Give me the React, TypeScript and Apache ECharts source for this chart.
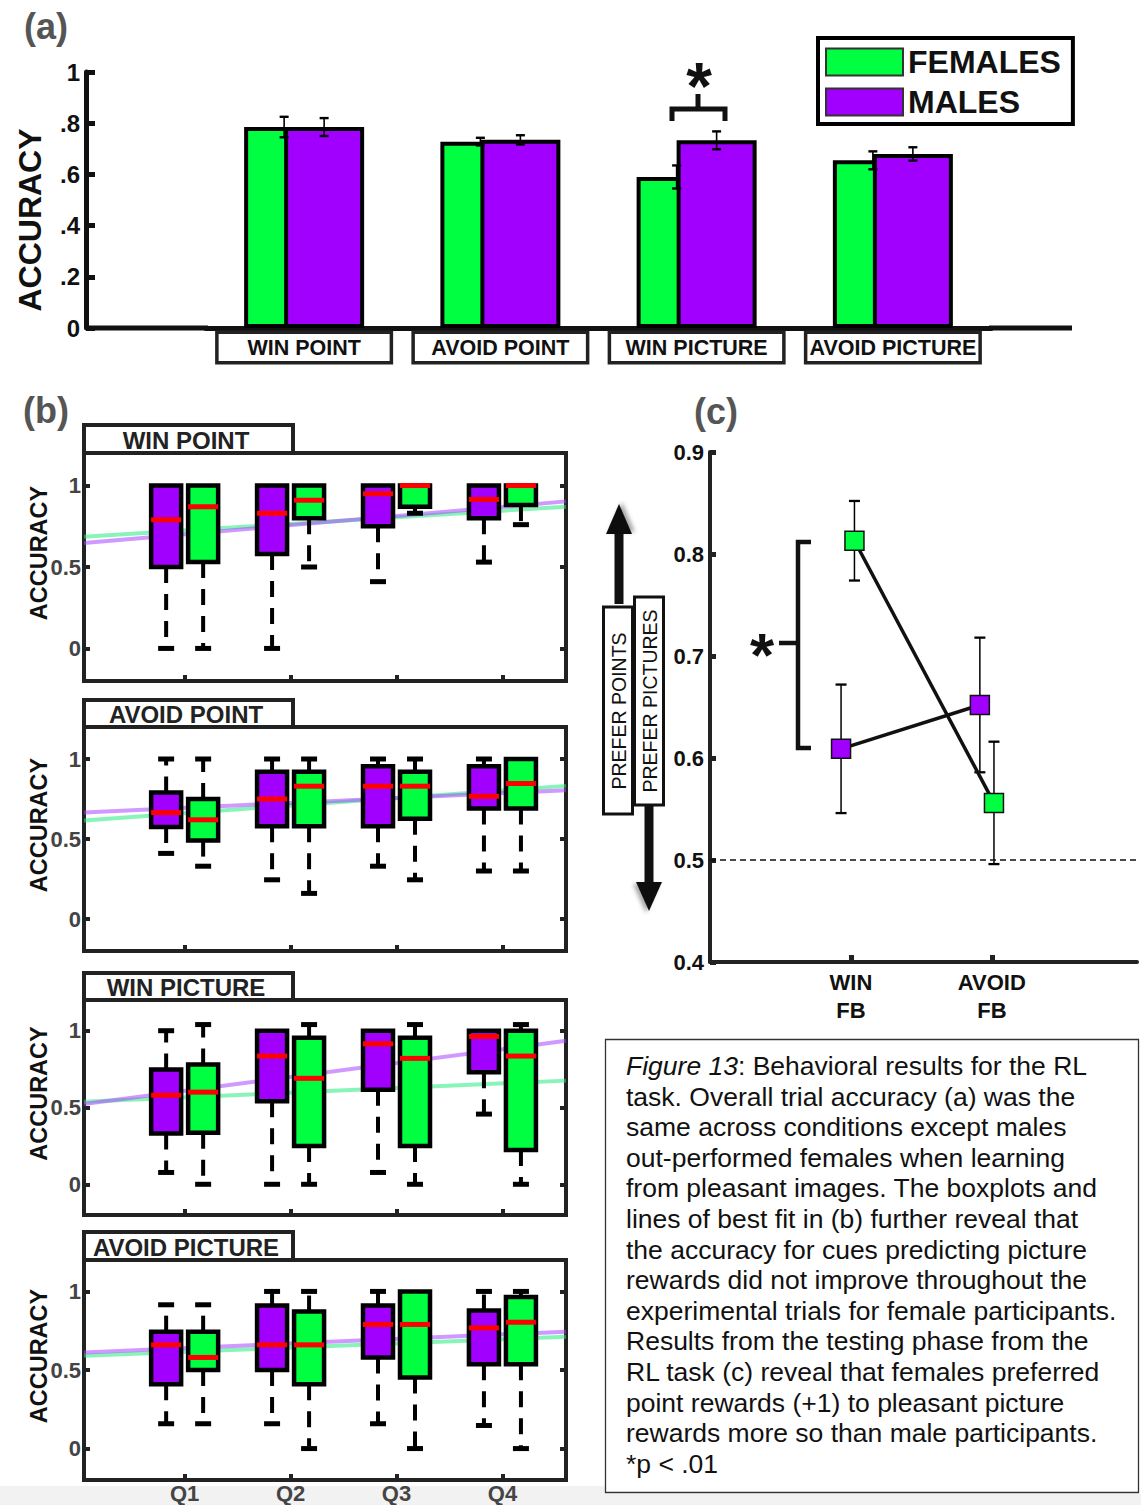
import React, { useEffect, useRef } from 'react';
import * as echarts from 'echarts';

const FONT = "'Liberation Sans', Arial, Helvetica, sans-serif";
const GREEN = '#00ff41';
const PURPLE = '#a100ff';
const GREEN_FIT = 'rgba(40, 235, 125, 0.55)';
const PURPLE_FIT = 'rgba(170, 70, 255, 0.55)';

// ---------- panel (a): overall accuracy ----------
const conditions = ['WIN POINT', 'AVOID POINT', 'WIN PICTURE', 'AVOID PICTURE'];
const femalesAccuracy = [0.785, 0.728, 0.59, 0.655];
const femalesSem = [0.04, 0.015, 0.045, 0.035];
const malesAccuracy = [0.785, 0.735, 0.733, 0.68];
const malesSem = [0.035, 0.018, 0.035, 0.026];
const accuracyTicks = [0, 0.2, 0.4, 0.6, 0.8, 1];

// ---------- panel (b): boxplots per quarter ----------
const blockTitles = ['WIN POINT', 'AVOID POINT', 'WIN PICTURE', 'AVOID PICTURE'];
const quarterLabels = ['Q1', 'Q2', 'Q3', 'Q4'];
const quarterPositions = [1, 2, 3, 4];
const boxTicks = [0, 0.5, 1];
// each row: [min, q1, median, q3, max] for Q1..Q4
const winPointMales = [[0, 0.5, 0.79, 1, 1], [0, 0.58, 0.83, 1, 1], [0.41, 0.75, 0.95, 1, 1], [0.53, 0.8, 0.915, 1, 1]];
const winPointFemales = [[0, 0.53, 0.87, 1, 1], [0.5, 0.8, 0.91, 1, 1], [0.83, 0.87, 1, 1, 1], [0.76, 0.88, 1, 1, 1]];
const avoidPointMales = [[0.41, 0.575, 0.665, 0.79, 1], [0.245, 0.58, 0.75, 0.92, 1], [0.33, 0.58, 0.83, 0.955, 1], [0.3, 0.69, 0.767, 0.955, 1]];
const avoidPointFemales = [[0.33, 0.49, 0.62, 0.75, 1], [0.16, 0.58, 0.83, 0.92, 1], [0.245, 0.627, 0.83, 0.92, 1], [0.3, 0.69, 0.847, 1, 1]];
const winPictureMales = [[0.077, 0.33, 0.58, 0.747, 1], [0, 0.54, 0.835, 1, 1], [0.077, 0.615, 0.915, 1, 1], [0.457, 0.73, 0.963, 1, 1]];
const winPictureFemales = [[0, 0.336, 0.6, 0.78, 1.04], [0, 0.25, 0.69, 0.955, 1.04], [0, 0.25, 0.82, 0.955, 1.04], [0, 0.224, 0.835, 1, 1.04]];
const avoidPictureMales = [[0.158, 0.41, 0.66, 0.744, 0.915], [0.158, 0.5, 0.66, 0.91, 1], [0.158, 0.58, 0.79, 0.91, 1], [0.147, 0.537, 0.768, 0.878, 1]];
const avoidPictureFemales = [[0.158, 0.5, 0.58, 0.744, 0.915], [0, 0.41, 0.66, 0.872, 1], [0, 0.452, 0.79, 1, 1], [0, 0.537, 0.804, 0.964, 1]];
// lines of best fit: value at start and end of the x range
const fitX = [0.05, 4.6];
const fitMales = [[0.647, 0.903], [0.665, 0.805], [0.523, 0.934], [0.612, 0.744]];
const fitFemales = [[0.686, 0.87], [0.616, 0.832], [0.538, 0.675], [0.59, 0.712]];

// ---------- panel (c): testing phase ----------
const feedbackLabels = ['WIN\nFB', 'AVOID\nFB'];
const feedbackPositions = [1, 2];
const femalesPrefX = [1.025, 2.015];
const femalesPref = [0.813, 0.556];
const femalesPrefErr = [0.039, 0.06];
const malesPrefX = [0.93, 1.915];
const malesPref = [0.609, 0.652];
const malesPrefErr = [0.063, 0.066];
const chanceLevel = 0.5;
const prefTicks = [0.4, 0.5, 0.6, 0.7, 0.8, 0.9];

const captionLines = [
  '{i|Figure 13}: Behavioral results for the RL',
  'task. Overall trial accuracy (a) was the',
  'same across conditions except males',
  'out-performed females when learning',
  'from pleasant images. The boxplots and',
  'lines of best fit in (b) further reveal that',
  'the accuracy for cues predicting picture',
  'rewards did not improve throughout the',
  'experimental trials for female participants.',
  'Results from the testing phase from the',
  'RL task (c) reveal that females preferred',
  'point rewards (+1) to pleasant picture',
  'rewards more so than male participants.',
  '*p < .01',
];

// layout (pixels)
const bGridTop = [453, 727, 1000, 1260];
const bGridH = [228, 224, 215, 220];
const bTabTop = [425, 700, 973, 1232];

const boxes = [
  [winPointMales, winPointFemales],
  [avoidPointMales, avoidPointFemales],
  [winPictureMales, winPictureFemales],
  [avoidPictureMales, avoidPictureFemales],
];

function txt(x: number, y: number, text: string, size: number, extra: any = {}) {
  const { rotation, z, ...style } = extra;
  return {
    type: 'text', x, y, rotation: rotation || 0, z: z ?? 10, silent: true,
    style: {
      text, fontSize: size, fontFamily: FONT, fontWeight: 'bold', fill: '#111',
      align: 'center', textAlign: 'center', verticalAlign: 'middle', textVerticalAlign: 'middle',
      ...style,
    },
  };
}

function line(x1: number, y1: number, x2: number, y2: number, w: number, color = '#111') {
  return { type: 'line', silent: true, z: 10, shape: { x1, y1, x2, y2 }, style: { stroke: color, lineWidth: w } };
}

function errRender(sidePx: number, capHalf: number, lw: number) {
  return (params: any, api: any) => {
    const c = api.value(0), v = api.value(1), e = api.value(2);
    const top = api.coord([c, v + e]);
    const bot = api.coord([c, v - e]);
    const x = top[0] + sidePx;
    const st = { stroke: '#000', lineWidth: lw };
    return {
      type: 'group',
      children: [
        { type: 'line', shape: { x1: x, y1: top[1], x2: x, y2: bot[1] }, style: st },
        { type: 'line', shape: { x1: x - capHalf, y1: top[1], x2: x + capHalf, y2: top[1] }, style: { ...st, lineWidth: lw + 0.8 } },
        { type: 'line', shape: { x1: x - capHalf, y1: bot[1], x2: x + capHalf, y2: bot[1] }, style: { ...st, lineWidth: lw + 0.8 } },
      ],
    };
  };
}

function boxRender(sidePx: number, fill: string) {
  return (params: any, api: any) => {
    const q = api.value(0);
    const mn = api.value(1), q1 = api.value(2), md = api.value(3), q3 = api.value(4), mx = api.value(5);
    const cx = api.coord([q, 0])[0] + sidePx;
    const y = (v: number) => api.coord([q, v])[1];
    const hw = 15;
    const ch: any[] = [];
    const dash = { stroke: '#000', lineWidth: 4, lineDash: [16, 11] };
    const cap = { stroke: '#000', lineWidth: 5 };
    if (mx > q3 + 1e-6) {
      ch.push({ type: 'line', shape: { x1: cx, y1: y(q3), x2: cx, y2: y(mx) }, style: dash });
      ch.push({ type: 'line', shape: { x1: cx - 8, y1: y(mx), x2: cx + 8, y2: y(mx) }, style: cap });
    }
    if (mn < q1 - 1e-6) {
      ch.push({ type: 'line', shape: { x1: cx, y1: y(q1), x2: cx, y2: y(mn) }, style: dash });
      ch.push({ type: 'line', shape: { x1: cx - 8, y1: y(mn), x2: cx + 8, y2: y(mn) }, style: cap });
    }
    ch.push({ type: 'rect', shape: { x: cx - hw, y: y(q3), width: hw * 2, height: y(q1) - y(q3) }, style: { fill, stroke: '#000', lineWidth: 4.5 } });
    ch.push({ type: 'line', shape: { x1: cx - hw, y1: y(md), x2: cx + hw, y2: y(md) }, style: { stroke: '#ff0000', lineWidth: 5 } });
    return { type: 'group', children: ch };
  };
}

function buildOption(): any {
  const grid: any[] = [];
  const xAxis: any[] = [];
  const yAxis: any[] = [];
  const series: any[] = [];
  const graphic: any[] = [];

  // ---------- (a) ----------
  grid.push({ left: 206, top: 72, width: 785, height: 256, outerBoundsMode: 'none', containLabel: false });
  xAxis.push({
    gridIndex: 0, type: 'category', data: conditions,
    axisLine: { show: true, onZero: false, lineStyle: { color: '#111', width: 5 } },
    axisTick: { show: false },
    splitLine: { show: false },
    axisLabel: {
      interval: 0, fontFamily: FONT, fontSize: 21.5, fontWeight: 'bold', color: '#111',
      backgroundColor: '#fff', borderColor: '#222', borderWidth: 3.5, width: 171, align: 'center',
      padding: [3, 0, 2, 0], margin: 6,
    },
  });
  yAxis.push({
    gridIndex: 0, type: 'value', min: 0, max: 1, offset: 120,
    name: 'ACCURACY', nameLocation: 'middle', nameGap: 40, nameRotate: 90, nameMoveOverlap: false,
    nameTextStyle: { fontFamily: FONT, fontSize: 32, fontWeight: 'bold', color: '#111', padding: [0, 40, 0, 0] },
    axisLine: { show: true, lineStyle: { color: '#111', width: 5 } },
    axisTick: { show: true, inside: true, length: 9, lineStyle: { color: '#111', width: 5 }, customValues: accuracyTicks },
    axisLabel: {
      customValues: accuracyTicks,
      formatter: (v: number) => (v === 0 ? '0' : v >= 1 ? '1' : '.' + Math.round(v * 10)),
      fontFamily: FONT, fontSize: 24, fontWeight: 'bold', color: '#111', margin: 6,
    },
    splitLine: { show: false },
  });
  series.push({
    name: 'FEMALES', type: 'bar', xAxisIndex: 0, yAxisIndex: 0, data: femalesAccuracy,
    barWidth: 80, barGap: '-50%', z: 2,
    itemStyle: { color: GREEN, borderColor: '#000', borderWidth: 4 },
  });
  series.push({
    name: 'MALES', type: 'bar', xAxisIndex: 0, yAxisIndex: 0, data: malesAccuracy,
    barWidth: 80, barGap: '-50%', z: 2,
    itemStyle: { color: PURPLE, borderColor: '#000', borderWidth: 4 },
  });
  series.push({
    type: 'custom', xAxisIndex: 0, yAxisIndex: 0, z: 4, silent: true,
    data: femalesAccuracy.map((v, i) => [i, v, femalesSem[i]]), encode: { x: 0, y: 1 },
    renderItem: errRender(-20, 4.5, 1.6),
  });
  series.push({
    type: 'custom', xAxisIndex: 0, yAxisIndex: 0, z: 4, silent: true,
    data: malesAccuracy.map((v, i) => [i, v, malesSem[i]]), encode: { x: 0, y: 1 },
    renderItem: errRender(20, 4.5, 1.6),
  });
  // extend x-axis baseline to full width
  graphic.push(line(86, 328, 208, 328, 5));
  graphic.push(line(989, 328, 1072, 328, 5));
  // significance bracket (a)
  graphic.push({ type: 'polyline', silent: true, z: 10, shape: { points: [[672, 121], [672, 109], [725, 109], [725, 121]] }, style: { stroke: '#111', lineWidth: 5, fill: 'none' } });
  graphic.push(line(698, 109, 698, 94, 5));
  graphic.push(txt(699, 86, '*', 66));

  // ---------- (b) ----------
  for (let i = 0; i < 4; i++) {
    const gi = i + 1;
    grid.push({
      left: 84, top: bGridTop[i], width: 482, height: bGridH[i], show: true,
      borderColor: '#222', borderWidth: 4, outerBoundsMode: 'none', containLabel: false,
    });
    xAxis.push({
      gridIndex: gi, type: 'value', min: 0.05, max: 4.6, position: 'bottom',
      axisLine: { show: false, onZero: false }, splitLine: { show: false },
      axisTick: { show: true, inside: true, length: 6, lineStyle: { color: '#222', width: 4 }, customValues: quarterPositions },
      axisLabel: {
        show: i === 3, customValues: quarterPositions,
        formatter: (v: number) => quarterLabels[quarterPositions.indexOf(v)] || '',
        fontFamily: FONT, fontSize: 22, fontWeight: 'bold', color: '#444', margin: 2,
      },
    });
  }
  for (let i = 0; i < 4; i++) {
    yAxis.push({
      gridIndex: i + 1, type: 'value', min: -0.2, max: 1.2, position: 'left',
      name: 'ACCURACY', nameLocation: 'middle', nameGap: 33, nameRotate: 90, nameMoveOverlap: false,
      nameTextStyle: { fontFamily: FONT, fontSize: 23.5, fontWeight: 'bold', color: '#111', padding: [0, 0, 0, 28] },
      axisLine: { show: false, onZero: false }, splitLine: { show: false },
      axisTick: { show: true, inside: true, length: 6, lineStyle: { color: '#222', width: 4 }, customValues: boxTicks },
      axisLabel: {
        customValues: boxTicks, formatter: (v: number) => String(v),
        fontFamily: FONT, fontSize: 22, fontWeight: 'bold', color: '#444', margin: 3,
      },
    });
  }
  for (let i = 0; i < 4; i++) {
    yAxis.push({
      gridIndex: i + 1, type: 'value', min: -0.2, max: 1.2, position: 'right',
      axisLine: { show: false, onZero: false }, splitLine: { show: false },
      axisTick: { show: true, inside: true, length: 6, lineStyle: { color: '#222', width: 4 }, customValues: boxTicks },
      axisLabel: { show: false },
    });
  }
  for (let i = 0; i < 4; i++) {
    const gi = i + 1;
    series.push({
      type: 'line', xAxisIndex: gi, yAxisIndex: gi, z: 1, silent: true, symbol: 'none',
      data: [[fitX[0], fitFemales[i][0]], [fitX[1], fitFemales[i][1]]],
      lineStyle: { color: GREEN_FIT, width: 4 },
    });
    series.push({
      type: 'line', xAxisIndex: gi, yAxisIndex: gi, z: 1, silent: true, symbol: 'none',
      data: [[fitX[0], fitMales[i][0]], [fitX[1], fitMales[i][1]]],
      lineStyle: { color: PURPLE_FIT, width: 4 },
    });
    const [males, females] = boxes[i];
    series.push({
      type: 'custom', xAxisIndex: gi, yAxisIndex: gi, z: 3, silent: true,
      data: males.map((r, k) => [quarterPositions[k], ...r]), encode: { x: 0, y: [1, 2, 3, 4, 5] },
      renderItem: boxRender(-18.5, PURPLE),
    });
    series.push({
      type: 'custom', xAxisIndex: gi, yAxisIndex: gi, z: 3, silent: true,
      data: females.map((r, k) => [quarterPositions[k], ...r]), encode: { x: 0, y: [1, 2, 3, 4, 5] },
      renderItem: boxRender(18.5, GREEN),
    });
    // title tab
    graphic.push({
      type: 'rect', silent: true, z: 10,
      shape: { x: 84, y: bTabTop[i], width: 209, height: bGridTop[i] - bTabTop[i] },
      style: { fill: '#fff', stroke: '#222', lineWidth: 4 },
    });
    graphic.push(txt(186, (bTabTop[i] + bGridTop[i]) / 2 + 1, blockTitles[i], 24, { fill: '#222' }));
  }

  // ---------- (c) ----------
  grid.push({ left: 710, top: 452, width: 427, height: 510, outerBoundsMode: 'none', containLabel: false });
  xAxis.push({
    gridIndex: 5, type: 'value', min: 0, max: 3.03,
    axisLine: { show: true, onZero: false, lineStyle: { color: '#222', width: 4 } },
    splitLine: { show: false },
    axisTick: { show: true, inside: true, length: 7, lineStyle: { color: '#222', width: 5 }, customValues: feedbackPositions },
    axisLabel: {
      customValues: feedbackPositions,
      formatter: (v: number) => feedbackLabels[feedbackPositions.indexOf(v)] || '',
      fontFamily: FONT, fontSize: 22, fontWeight: 'bold', color: '#111', lineHeight: 28, margin: 6,
    },
  });
  yAxis.push({
    gridIndex: 5, type: 'value', min: 0.4, max: 0.9,
    axisLine: { show: true, onZero: false, lineStyle: { color: '#222', width: 4 } },
    splitLine: { show: false },
    axisTick: { show: true, inside: true, length: 6, lineStyle: { color: '#222', width: 5 }, customValues: prefTicks },
    axisLabel: {
      customValues: prefTicks, formatter: (v: number) => v.toFixed(1),
      fontFamily: FONT, fontSize: 22, fontWeight: 'bold', color: '#111', margin: 6,
    },
  });
  series.push({
    type: 'custom', xAxisIndex: 5, yAxisIndex: 9, z: 2, silent: true,
    data: malesPrefX.map((x, i) => [x, malesPref[i], malesPrefErr[i]]), encode: { x: 0, y: 1 },
    renderItem: errRender(0, 5.5, 1.5),
  });
  series.push({
    type: 'custom', xAxisIndex: 5, yAxisIndex: 9, z: 2, silent: true,
    data: femalesPrefX.map((x, i) => [x, femalesPref[i], femalesPrefErr[i]]), encode: { x: 0, y: 1 },
    renderItem: errRender(0, 5.5, 1.5),
  });
  series.push({
    name: 'MALES (test)', type: 'line', xAxisIndex: 5, yAxisIndex: 9, z: 4, silent: true,
    data: malesPrefX.map((x, i) => [x, malesPref[i]]),
    symbol: 'rect', symbolSize: 19, showSymbol: true,
    itemStyle: { color: PURPLE, borderColor: '#111', borderWidth: 1.5 },
    lineStyle: { color: '#111', width: 3.5 },
  });
  series.push({
    name: 'FEMALES (test)', type: 'line', xAxisIndex: 5, yAxisIndex: 9, z: 4, silent: true,
    data: femalesPrefX.map((x, i) => [x, femalesPref[i]]),
    symbol: 'rect', symbolSize: 19, showSymbol: true,
    itemStyle: { color: GREEN, borderColor: '#111', borderWidth: 1.5 },
    lineStyle: { color: '#111', width: 3.5 },
    markLine: {
      silent: true, symbol: 'none', label: { show: false },
      lineStyle: { type: [6, 4], color: '#111', width: 1.5 },
      data: [{ yAxis: chanceLevel }],
    },
  });
  // bracket (c)
  graphic.push({ type: 'polyline', silent: true, z: 10, shape: { points: [[811, 542], [798, 542], [798, 748], [811, 748]] }, style: { stroke: '#111', lineWidth: 4.5, fill: 'none' } });
  graphic.push(line(779, 643, 798, 643, 4.5));
  graphic.push(txt(762, 654, '*', 62));
  // arrows
  graphic.push(line(619, 604, 619, 528, 9));
  graphic.push({ type: 'polygon', silent: true, z: 10, shape: { points: [[619, 504], [606, 534], [632, 534]] }, style: { fill: '#111', shadowBlur: 4, shadowColor: 'rgba(0,0,0,0.35)', shadowOffsetX: 3, shadowOffsetY: -2 } });
  graphic.push(line(649, 804, 649, 887, 9));
  graphic.push({ type: 'polygon', silent: true, z: 10, shape: { points: [[649, 911], [636, 882], [662, 882]] }, style: { fill: '#111', shadowBlur: 4, shadowColor: 'rgba(0,0,0,0.35)', shadowOffsetX: -3, shadowOffsetY: 2 } });
  graphic.push({ type: 'rect', silent: true, z: 10, shape: { x: 603.5, y: 607, width: 29, height: 207 }, style: { fill: '#fff', stroke: '#111', lineWidth: 3 } });
  graphic.push({ type: 'rect', silent: true, z: 10, shape: { x: 634.5, y: 597, width: 29, height: 208 }, style: { fill: '#fff', stroke: '#111', lineWidth: 3 } });
  graphic.push(txt(619, 711, 'PREFER POINTS', 19.5, { rotation: Math.PI / 2, fontWeight: 'normal', z: 11 }));
  graphic.push(txt(650, 701, 'PREFER PICTURES', 19.5, { rotation: Math.PI / 2, fontWeight: 'normal', z: 11 }));

  // panel labels
  graphic.push(txt(46, 26, '(a)', 36, { fill: '#555' }));
  graphic.push(txt(46, 410, '(b)', 36, { fill: '#555' }));
  graphic.push(txt(716, 411, '(c)', 36, { fill: '#555' }));

  // caption
  graphic.push({ type: 'rect', silent: true, z: 5, shape: { x: 605.5, y: 1039.5, width: 533, height: 453 }, style: { fill: '#fff', stroke: '#333', lineWidth: 1.3 } });
  captionLines.forEach((t, i) => {
    graphic.push({
      type: 'text', silent: true, z: 10, x: 626, y: 1066 + i * 30.6,
      style: {
        text: t, fontSize: 26.5, fontFamily: FONT, fontWeight: 'normal', fill: '#111',
        align: 'left', textAlign: 'left', verticalAlign: 'middle', textVerticalAlign: 'middle',
        rich: { i: { fontStyle: 'italic', fontSize: 26.5, fontFamily: FONT, fill: '#111', color: '#111' } },
      },
    });
  });
  // light strip at the bottom of the page
  graphic.push({ type: 'rect', silent: true, z: -10, shape: { x: 0, y: 1486, width: 605, height: 19 }, style: { fill: '#f2f2f2' } });
  graphic.push({ type: 'rect', silent: true, z: -10, shape: { x: 605, y: 1494, width: 536, height: 11 }, style: { fill: '#f2f2f2' } });

  return {
    animation: false,
    backgroundColor: '#fff',
    textStyle: { fontFamily: FONT },
    legend: {
      data: ['FEMALES', 'MALES'], orient: 'vertical', left: 818, top: 38,
      itemWidth: 77, itemHeight: 27, itemGap: 8, icon: 'rect', selectedMode: false,
      padding: [8, 12, 6, 7], borderColor: '#000', borderWidth: 4, backgroundColor: '#fff',
      itemStyle: { borderColor: '#333', borderWidth: 2 },
      textStyle: { fontFamily: FONT, fontSize: 32, fontWeight: 'bold', color: '#111' },
    },
    grid, xAxis, yAxis, series, graphic,
  };
}

export default function App() {
  const ref = useRef<HTMLDivElement>(null);
  useEffect(() => {
    document.body.style.margin = '0';
    const chart = echarts.init(ref.current as HTMLDivElement, null, { renderer: 'svg', width: 1141, height: 1505 });
    chart.setOption(buildOption());
    return () => chart.dispose();
  }, []);
  return <div ref={ref} style={{ width: 1141, height: 1505, background: '#fff' }} />;
}
